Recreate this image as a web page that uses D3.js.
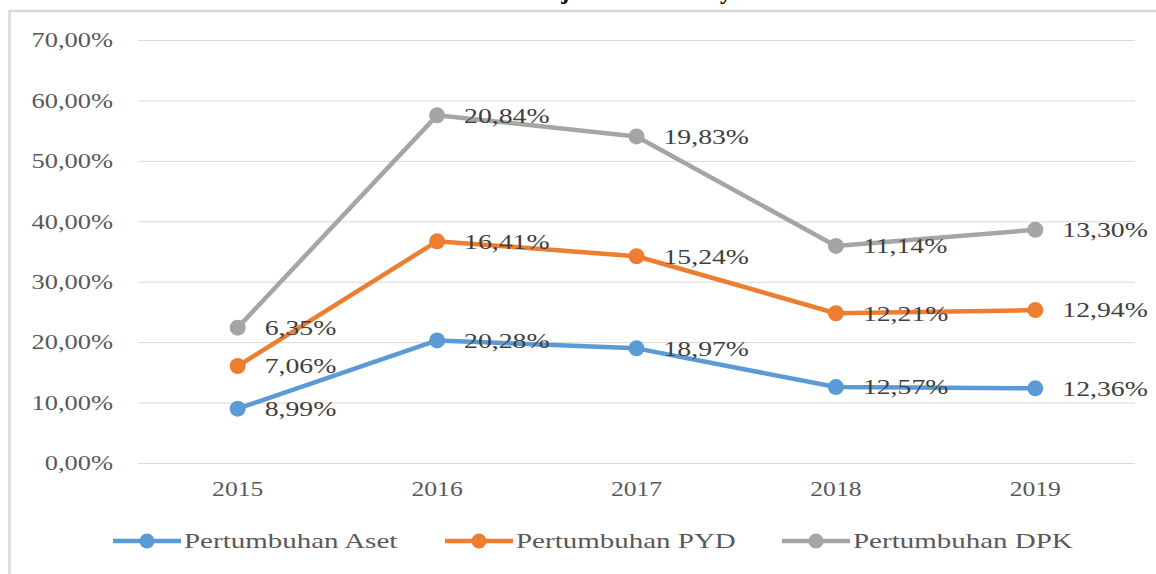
<!DOCTYPE html>
<html>
<head>
<meta charset="utf-8">
<script src="https://cdn.jsdelivr.net/npm/d3@7"></script>
<style>
  body { margin: 0; background: #fff; }
  svg { display: block; }
</style>
</head>
<body>
<svg></svg>
<script>
// data (growth per year, lines are stacked)
const years = ["2015", "2016", "2017", "2018", "2019"];
const asetGrowth = [8.99, 20.28, 18.97, 12.57, 12.36];
const pydGrowth = [7.06, 16.41, 15.24, 12.21, 12.94];
const dpkGrowth = [6.35, 20.84, 19.83, 11.14, 13.30];
const seriesNames = ["Pertumbuhan Aset", "Pertumbuhan PYD", "Pertumbuhan DPK"];
const yTicks = [0, 10, 20, 30, 40, 50, 60, 70];

const W = 1156, H = 574;
const margin = {top: 40, right: 21, bottom: 111, left: 138},
    width = W - margin.left - margin.right,
    height = H - margin.top - margin.bottom;

const colors = ["#5b9bd5", "#ed7d31", "#a5a5a5"];
const font = "'Liberation Serif', 'Times New Roman', serif";

// the source text is a horizontally stretched serif, widen the glyphs
function stretch(sel, k) {
  sel.each(function() {
    const len = this.getComputedTextLength();
    d3.select(this)
      .attr("textLength", len * k)
      .attr("lengthAdjust", "spacingAndGlyphs");
  });
}

const table = years.map((y, i) => ({year: y, aset: asetGrowth[i], pyd: pydGrowth[i], dpk: dpkGrowth[i]}));
const keys = ["aset", "pyd", "dpk"];
const stacked = d3.stack().keys(keys)(table);

const root = d3.select("svg")
    .attr("width", W)
    .attr("height", H);

// title, cut off at the top of the picture like in the source
root.append("text")
    .attr("x", 532)
    .attr("y", -1)
    .attr("text-anchor", "middle")
    .style("font-family", font)
    .style("font-size", "24px")
    .style("font-weight", "bold")
    .text("Grafik Pertumbuhan Kinerja Perbankan Syariah");

// chart border (only top and left visible)
root.append("path")
    .attr("d", `M9.5,${H} V11 H${W}`)
    .attr("fill", "none")
    .attr("stroke", "#d9d9d9")
    .attr("stroke-width", 2.5);

const svg = root.append("g")
    .attr("transform", `translate(${margin.left},${margin.top})`);

const x = d3.scaleBand()
    .domain(years)
    .range([0, width]);

const y = d3.scaleLinear()
    .domain([0, 70])
    .range([height, 0]);

// gridlines + y labels
const yAxis = svg.append("g")
    .call(d3.axisLeft(y).tickValues(yTicks).tickSize(-width).tickPadding(25)
        .tickFormat(d => d3.format(".2f")(d).replace(".", ",") + "%"));
yAxis.select(".domain").remove();
yAxis.selectAll("line").attr("stroke", "#d9d9d9").attr("stroke-width", 1);
yAxis.selectAll("text")
    .attr("fill", "#595959")
    .attr("dy", "0.32em")
    .style("font-family", font)
    .style("font-size", "21px")
    .call(stretch, 1.26);

// x labels
const xAxis = svg.append("g")
    .attr("transform", `translate(0,${height})`)
    .call(d3.axisBottom(x).tickSize(0).tickPadding(18));
xAxis.select(".domain").remove();
xAxis.selectAll("text")
    .attr("fill", "#595959")
    .style("font-family", font)
    .style("font-size", "21px")
    .call(stretch, 1.22);

const cx = d => x(d.data.year) + x.bandwidth() / 2;

const line = d3.line()
    .x(cx)
    .y(d => y(d[1]));

const layers = svg.selectAll(".layer")
    .data(stacked)
    .join("g")
      .attr("class", "layer");

layers.append("path")
    .attr("d", line)
    .attr("fill", "none")
    .attr("stroke", (d, i) => colors[i])
    .attr("stroke-width", 4.5)
    .attr("stroke-linejoin", "round");

layers.selectAll("circle")
    .data((d, i) => d.map(p => ({p, i})))
    .join("circle")
      .attr("cx", d => cx(d.p))
      .attr("cy", d => y(d.p[1]))
      .attr("r", 8)
      .attr("fill", d => colors[d.i]);

// value labels (the growth itself, not the stacked total)
layers.selectAll(".lbl")
    .data(d => d.map(p => ({p, key: d.key})))
    .join("text")
      .attr("class", "lbl")
      .attr("x", d => cx(d.p) + 27)
      .attr("y", d => y(d.p[1]))
      .attr("dy", "0.35em")
      .attr("fill", "#404040")
      .style("font-family", font)
      .style("font-size", "21px")
      .text(d => d3.format(".2f")(d.p.data[d.key]).replace(".", ",") + "%")
      .call(stretch, 1.32);

// legend
const legendX = [113, 445, 782];
const legend = root.append("g")
    .selectAll("g")
    .data(seriesNames)
    .join("g")
      .attr("transform", (d, i) => `translate(${legendX[i]},541)`);

legend.append("line")
    .attr("x1", 0).attr("x2", 68)
    .attr("stroke", (d, i) => colors[i])
    .attr("stroke-width", 4.5);

legend.append("circle")
    .attr("cx", 34)
    .attr("r", 7.5)
    .attr("fill", (d, i) => colors[i]);

legend.append("text")
    .attr("x", 71)
    .attr("dy", "0.35em")
    .attr("fill", "#595959")
    .style("font-family", font)
    .style("font-size", "21px")
    .text(d => d)
    .call(stretch, 1.38);
</script>
</body>
</html>
